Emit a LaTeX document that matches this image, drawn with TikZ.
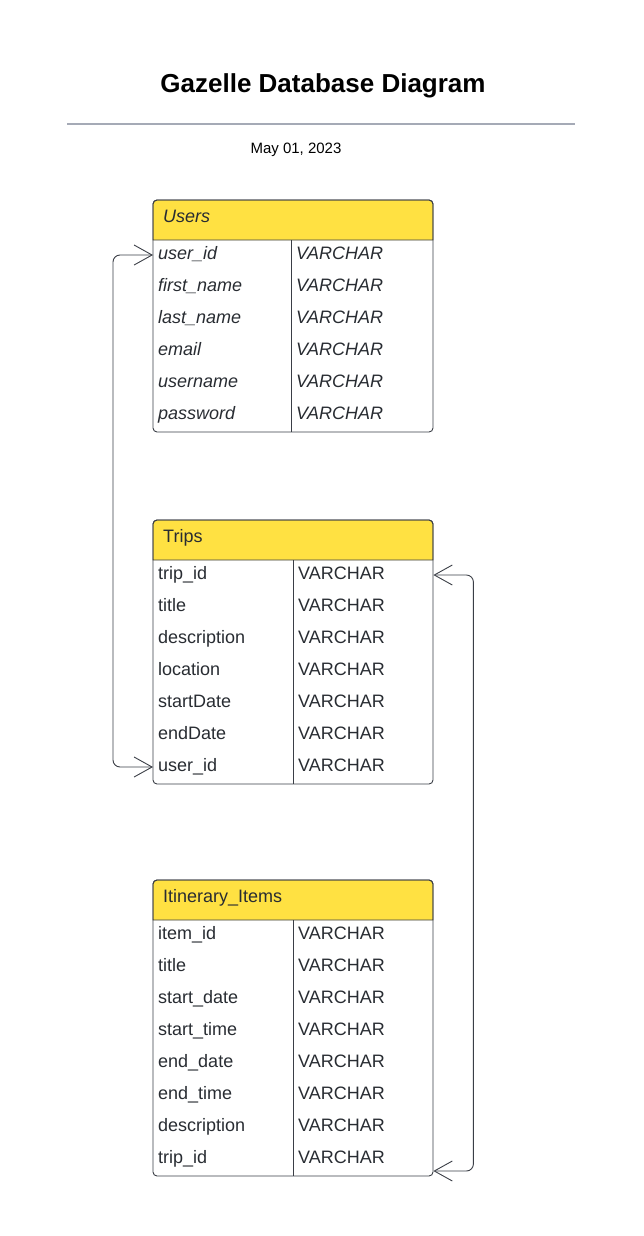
\documentclass[tikz,border=0pt]{standalone}
\usepackage{fontspec}
\setmainfont{Liberation Sans}
\usetikzlibrary{arrows.meta}
\definecolor{hdryellow}{RGB}{255,225,66}
\definecolor{framegray}{RGB}{58,62,70}
\definecolor{rulegray}{RGB}{165,170,182}
\definecolor{txtgray}{RGB}{40,44,50}
\begin{document}
\begin{tikzpicture}[x=1pt,y=-1pt,
    frame/.style={draw=framegray,line width=0.9pt},
    hdr/.style={frame,fill=hdryellow},
    cell/.style={anchor=west,inner xsep=5pt,inner ysep=0pt,align=left,text height=12pt,text depth=4pt,
      text=txtgray,font=\fontsize{18}{21}\selectfont},
    cellit/.style={cell,font=\fontsize{18}{21}\selectfont\itshape},
    link/.style={draw=framegray,line width=0.9pt,rounded corners=7pt,
      {Straight Barb[length=18pt,width=20pt]}-{Straight Barb[length=18pt,width=20pt]}}]
  \useasboundingbox (0,0) rectangle (643,1236);

  \node[font=\bfseries\fontsize{26}{30}\selectfont] (title) at (323,86) {Gazelle Database Diagram};
  \draw[rulegray,line width=1.3pt] (67,124) -- (575,124);
  \node[font=\fontsize{15}{18}\selectfont] (date) at (296,150) {May 01, 2023};

  % Users
  \draw[hdr] (153,240) [rounded corners=4pt]-- (153,200) -- (433,200) [sharp corners]-- (433,240) -- cycle;
  \node[cellit,inner xsep=10pt] (users) at (153,218) {Users};
  \draw[frame,rounded corners=4pt] (153,200) rectangle (433,432);
  \draw[frame] (291,240) -- (291,432);
  \foreach \f [count=\i] in {user\_id,first\_name,last\_name,email,username,password} {
    \node[cellit,text width=128pt] (u\i) at (153,{223+32*\i}) {\f};
    \node[cellit,text width=132pt] (ut\i) at (291,{223+32*\i}) {VARCHAR};
  }

  % Trips
  \draw[hdr] (153,560) [rounded corners=4pt]-- (153,520) -- (433,520) [sharp corners]-- (433,560) -- cycle;
  \node[cell,inner xsep=10pt] (trips) at (153,538) {Trips};
  \draw[frame,rounded corners=4pt] (153,520) rectangle (433,784);
  \draw[frame] (293,560) -- (293,784);
  \foreach \f [count=\i] in {trip\_id,title,description,location,startDate,endDate,user\_id} {
    \node[cell,text width=130pt] (t\i) at (153,{543+32*\i}) {\f};
    \node[cell,text width=130pt] (tt\i) at (293,{543+32*\i}) {VARCHAR};
  }

  % Itinerary_Items
  \draw[hdr] (153,920) [rounded corners=4pt]-- (153,880) -- (433,880) [sharp corners]-- (433,920) -- cycle;
  \node[cell,inner xsep=10pt] (items) at (153,898) {Itinerary\_Items};
  \draw[frame,rounded corners=4pt] (153,880) rectangle (433,1176);
  \draw[frame] (293,920) -- (293,1176);
  \foreach \f [count=\i] in {item\_id,title,start\_date,start\_time,end\_date,end\_time,description,trip\_id} {
    \node[cell,text width=130pt] (it\i) at (153,{903+32*\i}) {\f};
    \node[cell,text width=130pt] (itt\i) at (293,{903+32*\i}) {VARCHAR};
  }

  % relations
  \draw[link] (u1.west) -- ++(-40,0) |- (t7.west);
  \draw[link] (tt1.east) -- ++(40,0) |- ([yshift=-12pt]itt8.east);
\end{tikzpicture}
\end{document}
